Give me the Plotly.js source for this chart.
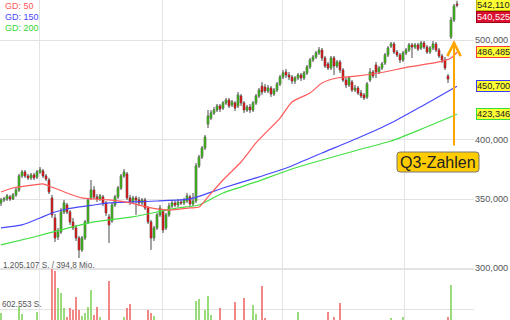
<!DOCTYPE html>
<html><head><meta charset="utf-8">
<script src="https://cdn.plot.ly/plotly-3.0.1.min.js"></script>
<style>html,body{margin:0;padding:0;background:#fff;overflow:hidden}#chart{width:510px;height:320px}</style>
</head><body><div id="chart"></div>
<script>
// ---- data ----
const open=[
347.1,349.4,350.2,351.8,350.2,353.4,357.3,368.7,372.0,368.7,
367.1,369.5,367.9,372.0,372.9,368.7,365.4,351.0,335.6,321.6,
325.2,340.1,345.5,340.1,332.6,328.2,320.9,312.4,320.9,332.6,
351.0,357.3,351.8,350.2,351.8,347.1,336.4,333.4,345.5,351.8,
358.9,368.7,370.4,351.0,347.8,351.0,349.4,347.1,349.4,343.2,
332.6,320.9,328.2,337.9,340.9,328.2,337.9,344.7,347.1,345.5,
347.8,347.1,348.6,351.8,346.3,348.6,377.1,384.7,392.6,414.2,
419.8,424.6,427.4,431.3,429.3,434.2,437.1,432.3,434.2,431.3,
441.1,434.2,427.4,430.3,427.4,434.2,441.1,451.0,450.0,446.0,
449.0,443.0,447.0,453.1,460.2,465.4,462.3,460.2,456.1,459.2,
462.3,459.2,464.4,470.7,478.1,481.3,485.7,488.9,480.3,473.9,
469.6,480.3,471.7,476.0,467.5,457.1,452.1,455.1,447.0,449.0,
444.0,442.1,440.1,457.1,465.4,472.8,465.4,469.6,474.9,483.5,
493.3,495.6,486.7,483.5,478.1,485.7,488.9,494.5,492.2,494.5,
491.1,496.7,492.2,486.7,491.1,495.6,488.9,482.4,478.1,461.3,
503.4,522.9,542.110];
const high=[
351.0,351.8,354.1,353.4,354.9,358.9,370.4,373.7,373.7,370.4,
371.2,371.2,373.7,376.2,374.5,370.4,367.1,353.4,338.6,328.2,
343.2,349.4,347.1,341.6,335.6,330.4,322.3,322.3,334.1,351.0,
365.4,360.5,354.1,354.1,353.4,348.6,338.6,347.1,353.4,360.5,
370.4,374.5,372.0,353.4,352.6,352.6,351.8,351.0,351.0,344.7,
334.1,329.7,339.4,345.5,342.4,339.4,347.1,349.4,349.4,350.2,
350.2,351.0,354.9,353.4,354.9,379.6,386.5,394.3,404.2,427.4,
427.4,430.3,433.2,433.2,436.1,439.1,439.1,437.1,436.1,445.0,
443.0,436.1,432.3,433.2,436.1,443.0,449.0,455.1,453.1,452.1,
451.0,449.0,455.1,462.3,467.5,468.6,465.4,462.3,461.3,464.4,
464.4,466.5,472.8,480.3,483.5,487.8,492.2,491.1,482.4,476.0,
482.4,482.4,478.1,478.1,469.6,460.2,461.3,457.1,452.1,451.0,
447.0,444.0,455.1,469.6,467.5,476.0,471.7,476.0,485.7,493.3,
497.8,497.8,488.9,485.7,487.8,491.1,496.7,496.7,496.7,496.7,
498.9,498.9,494.5,493.3,498.9,497.8,491.1,484.6,481.3,463.3,
526.5,542.1,546.0];
const low=[
344.7,347.8,348.6,348.6,349.4,351.8,355.7,367.1,367.1,365.4,
365.4,365.4,366.2,370.4,367.1,364.6,354.1,335.6,318.0,319.4,
323.8,338.6,338.6,330.4,326.7,318.7,306.8,311.0,319.4,331.1,
349.4,350.2,347.8,348.6,344.7,337.1,317.3,331.9,343.9,350.2,
357.3,367.1,349.4,345.5,346.3,337.9,344.7,345.5,341.6,331.1,
312.4,318.7,326.7,336.4,324.5,326.7,336.4,343.2,343.9,343.9,
345.5,345.5,347.1,343.9,344.7,347.1,375.4,383.0,390.8,410.5,
417.9,422.7,425.5,425.5,427.4,432.3,429.3,430.3,426.5,429.3,
431.3,424.6,425.5,424.6,425.5,432.3,439.1,442.1,444.0,444.0,
440.1,441.1,445.0,451.0,458.1,459.2,457.1,453.1,453.1,457.1,
456.1,457.1,462.3,468.6,476.0,479.2,483.5,477.0,469.6,467.5,
467.5,462.3,469.6,464.4,455.1,449.0,450.0,445.0,445.0,442.1,
439.1,437.1,438.1,455.1,459.2,459.2,463.3,467.5,472.8,481.3,
491.1,484.6,481.3,474.9,476.0,483.5,486.7,480.3,490.0,487.8,
488.9,490.0,484.6,484.6,488.9,486.7,480.3,474.9,467.5,454.1,
501.1,520.6,538.0];
const close=[
349.4,350.2,352.6,350.2,353.4,357.3,368.7,372.0,368.7,367.1,
369.5,367.1,372.0,373.7,368.7,366.2,355.7,337.9,320.9,325.2,
340.1,347.1,340.1,332.6,328.2,320.9,312.4,320.9,332.6,349.4,
357.3,351.8,350.2,352.6,347.1,339.4,330.4,345.5,351.8,358.9,
368.7,372.0,351.0,347.8,351.0,349.4,347.1,349.4,343.2,332.6,
320.9,328.2,337.9,343.2,326.7,337.9,344.7,347.1,345.5,347.8,
347.1,349.4,352.6,346.3,348.6,377.1,384.7,392.6,402.3,421.7,
424.6,427.4,431.3,428.4,434.2,437.1,431.3,435.2,429.3,442.1,
434.2,427.4,430.3,427.4,434.2,441.1,447.0,445.0,446.0,449.0,
443.0,447.0,453.1,460.2,464.4,462.3,460.2,456.1,459.2,462.3,
459.2,464.4,470.7,478.1,481.3,485.7,488.9,480.3,471.7,469.6,
480.3,471.7,476.0,467.5,457.1,452.1,459.2,447.0,449.0,444.0,
441.1,439.1,453.1,465.4,461.3,465.4,469.6,473.9,483.5,491.1,
495.6,486.7,483.5,478.1,485.7,488.9,494.5,492.2,494.5,490.0,
496.7,492.2,486.7,491.1,495.6,488.9,482.4,478.1,469.6,458.1,
522.9,539.6,540.525];
const volume=[
542000,380000,350000,330000,360000,410000,633000,527000,390000,340000,
320000,360000,557000,400000,380000,420000,430000,1205107,1175000,919000,
844000,618000,482000,618000,588000,783000,588000,497000,542000,633000,
889000,512000,633000,482000,410000,430000,1024000,420000,390000,400000,
410000,482000,618000,678000,380000,350000,330000,300000,410000,588000,
542000,497000,420000,390000,430000,360000,340000,310000,290000,300000,
280000,310000,330000,300000,350000,723000,753000,430000,588000,798000,
512000,410000,380000,618000,360000,390000,420000,370000,708000,400000,
430000,768000,380000,350000,663000,527000,420000,949000,467000,380000,
400000,360000,390000,420000,410000,380000,350000,400000,370000,557000,
390000,360000,410000,420000,380000,400000,390000,420000,410000,557000,
400000,482000,380000,693000,430000,410000,390000,400000,370000,380000,
360000,390000,420000,410000,380000,400000,370000,360000,420000,410000,
467000,400000,380000,390000,482000,360000,370000,400000,350000,340000,
360000,330000,380000,350000,370000,360000,390000,410000,430000,482000,
964000,430000,420000];

const ma50Idx=[0,4,11,14,16,22,27,31,36,43,50,56,63,66,69,74,80,85,93,97,103,107,112,119,126,136,146,150,152];
const ma50=[355.7,358.9,361.4,362.2,360.5,354.9,351.0,350.2,349.4,347.1,343.2,341.6,343.2,343.9,351.8,365.4,380.4,397.0,419.8,435.2,444.0,454.1,459.2,461.3,464.4,470.7,476.0,480.3,486.485];
const ma150Idx=[0,7,13,18,22,31,36,52,63,74,85,96,107,119,130,141,152];
const ma150=[328.2,330.4,335.6,340.1,342.4,345.5,347.1,348.6,350.2,358.9,367.1,376.2,388.2,401.4,415.1,432.3,450.7];
const ma200Idx=[0,11,20,31,36,44,52,59,66,74,85,96,107,119,130,141,152];
const ma200=[315.9,321.6,326.7,332.6,334.1,336.4,340.1,343.2,345.5,354.9,363.8,373.7,382.1,390.8,398.7,410.5,423.346];

const priceTicks=[300,350,400,500];
const priceTickText=['300,000','350,000','400,000','500,000'];
const volTicks=[602553,1205107];
const volLabels=['1.205.107 S. / 394,8 Mio.','602.553 S.'];
const maNames=['GD: 50','GD: 150','GD: 200'];
const eventLabel='Q3-Zahlen';
const eventIdx=151;
const eventPrice=500.0;

// ---- drawing ----
const W=510,H=320,PW=474;
const idx=open.map((_,i)=>i);
const deFmt=v=>v.toFixed(3).replace('.',',');
const GREEN='#3dba14',RED='#e31414',WICK='#4a4a4a';
const cRed='#ff5a5a',cBlue='#4848ff',cGreen='#44e044';

const bodyHi=open.map((o,i)=>Math.max(o,close[i]));
const bodyLo=open.map((o,i)=>Math.min(o,close[i]));
const volColors=close.map((c,i)=>c>=open[i]?'rgba(120,208,80,0.75)':'rgba(238,95,95,0.75)');

const traces=[
 {type:'scatter',mode:'lines',x:ma200Idx,y:ma200,line:{color:cGreen,width:1.2,shape:'spline',smoothing:0.6},hoverinfo:'skip',showlegend:false},
 {type:'scatter',mode:'lines',x:ma150Idx,y:ma150,line:{color:cBlue,width:1.2,shape:'spline',smoothing:0.6},hoverinfo:'skip',showlegend:false},
 {type:'scatter',mode:'lines',x:ma50Idx,y:ma50,line:{color:cRed,width:1.2,shape:'spline',smoothing:0.6},hoverinfo:'skip',showlegend:false},
 {type:'candlestick',x:idx,open:open,high:high,low:low,close:close,whiskerwidth:0,
  increasing:{line:{color:WICK,width:1},fillcolor:WICK},decreasing:{line:{color:WICK,width:1},fillcolor:WICK},hoverinfo:'skip',showlegend:false},
 {type:'candlestick',x:idx,open:open,high:bodyHi,low:bodyLo,close:close,whiskerwidth:0,
  increasing:{line:{color:GREEN,width:0},fillcolor:GREEN},decreasing:{line:{color:RED,width:0},fillcolor:RED},hoverinfo:'skip',showlegend:false},
 {type:'bar',x:idx,y:volume,yaxis:'y2',marker:{color:volColors,line:{width:0}},width:0.6,hoverinfo:'skip',showlegend:false}
];

const FONT='"Liberation Sans", Arial, sans-serif';
const px2x=p=>p/PW, py2y=p=>1-p/H;
const ann=[];
// MA legend
[[maNames[0],cRed,6],[maNames[1],cBlue,17],[maNames[2],'#33d633',28]].forEach(([t,c,y])=>{
 ann.push({xref:'paper',yref:'paper',x:px2x(3),y:py2y(y),xanchor:'left',yanchor:'middle',text:t,showarrow:false,font:{family:FONT,size:9,color:c}});
});
// volume labels
ann.push({xref:'paper',yref:'paper',x:px2x(1),y:py2y(265),xanchor:'left',yanchor:'middle',text:volLabels[0],showarrow:false,font:{family:FONT,size:8.2,color:'#555'}});
ann.push({xref:'paper',yref:'paper',x:px2x(0),y:py2y(304),xanchor:'left',yanchor:'middle',text:volLabels[1],showarrow:false,font:{family:FONT,size:8.2,color:'#555'}});
// right price boxes
const last=close.length-1;
const boxes=[
 [open[last],'#ffff33','#b8b800','#222',-1.5],
 [close[last],'#dc1030','#a00010','#fff',-11.3],
 [ma50[ma50.length-1],'#ffff33','#ff3b3b','#222',0],
 [ma150[ma150.length-1],'#ffff33','#3b3bff','#222',0],
 [ma200[ma200.length-1],'#ffff33','#3bdd3b','#222',0]
];
boxes.forEach(([v,bg,bc,fc,ys])=>{
 ann.push({xref:'paper',yref:'y',x:px2x(476),y:Math.log10(v),yshift:ys,xanchor:'left',yanchor:'middle',
  text:deFmt(v),showarrow:false,bgcolor:bg,bordercolor:bc,borderwidth:1,borderpad:0,font:{family:FONT,size:9.2,color:fc}});
});
// event arrow
ann.push({xref:'x',yref:'y',x:eventIdx,y:Math.log10(eventPrice),ax:0,ay:114,axref:'pixel',ayref:'pixel',text:' ',showarrow:true,
 arrowhead:5,arrowsize:1.3,arrowwidth:2,arrowcolor:'#ffa500',standoff:0,startstandoff:0});
// event label
ann.push({xref:'paper',yref:'paper',x:px2x(438),y:py2y(162),xanchor:'center',yanchor:'middle',text:eventLabel,showarrow:false,font:{family:FONT,size:16,color:'#222'}});

// rounded box behind the event label
const bx0=px2x(397),bx1=px2x(479),byT=py2y(152),byB=py2y(172),rx=3/PW,ry=3/H;
const path=`M${bx0+rx},${byT} L${bx1-rx},${byT} Q${bx1},${byT} ${bx1},${byT-ry} L${bx1},${byB+ry} Q${bx1},${byB} ${bx1-rx},${byB} L${bx0+rx},${byB} Q${bx0},${byB} ${bx0},${byB+ry} L${bx0},${byT-ry} Q${bx0},${byT} ${bx0+rx},${byT} Z`;

const layout={
 width:W,height:H,margin:{l:0,r:W-PW,t:0,b:0,pad:0},
 paper_bgcolor:'#fff',plot_bgcolor:'#fff',showlegend:false,
 font:{family:FONT},
 xaxis:{range:[-1/3,-1/3+PW/3],showticklabels:false,ticks:'',zeroline:false,showline:false,
  tickvals:[12.667,53.667,93.667,134.333],showgrid:true,gridcolor:'#e3e3e3',gridwidth:1,rangeslider:{visible:false},fixedrange:true},
 yaxis:{type:'log',range:[2.42652,2.73789],side:'right',tickvals:priceTicks,ticktext:priceTickText,
  tickfont:{family:FONT,size:9.2,color:'#555'},ticks:'',showgrid:true,gridcolor:'#e3e3e3',gridwidth:1,zeroline:false,showline:false,automargin:false,fixedrange:true},
 yaxis2:{overlaying:'y',side:'right',range:[436850,5257267],tickvals:volTicks,showticklabels:false,ticks:'',
  showgrid:true,gridcolor:'#e3e3e3',gridwidth:1,zeroline:false,showline:false,automargin:false,fixedrange:true},
 bargap:0,boxgap:0.25,
 annotations:ann,
 shapes:[{type:'path',xref:'paper',yref:'paper',path:path,fillcolor:'#ffcc00',line:{color:'#777',width:1},layer:'above'}]
};
Plotly.newPlot('chart',traces,layout,{displayModeBar:false,staticPlot:true});
</script></body></html>
